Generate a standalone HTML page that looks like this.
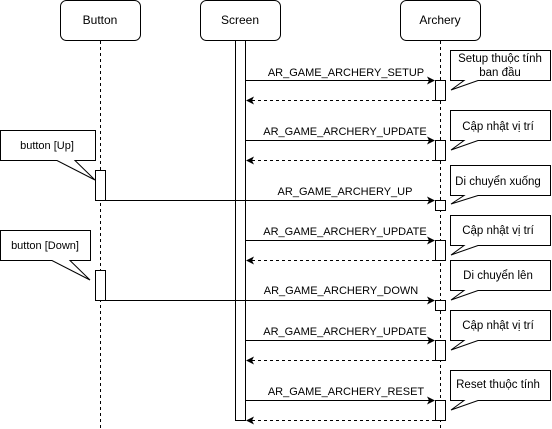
<!DOCTYPE html>
<html><head><style>
body{margin:0;background:#fff;}
svg{display:block;font-family:"Liberation Sans",Arial,sans-serif;font-size:11px;}
</style></head><body>
<svg width="552" height="429" viewBox="0 0 552 429" xmlns="http://www.w3.org/2000/svg">
<defs>
<marker id="a" markerWidth="8" markerHeight="8" refX="7" refY="4" orient="auto" markerUnits="userSpaceOnUse"><path d="M0,0 L8,4 L0,8 L2,4 Z" fill="#000"/></marker>
</defs>
<g stroke="#000" fill="#fff">
<rect x="60.5" y="0.5" width="80" height="40" rx="6"/>
<rect x="200.5" y="0.5" width="80" height="40" rx="6"/>
<rect x="400.5" y="0.5" width="80" height="40" rx="6"/>
<line x1="100.5" y1="41" x2="100.5" y2="429" stroke-dasharray="3,3"/>
<line x1="440.5" y1="41" x2="440.5" y2="429" stroke-dasharray="3,3"/>
<rect x="235.5" y="40.5" width="10" height="380"/>
<rect x="95.5" y="170.5" width="10" height="30"/>
<rect x="95.5" y="270.5" width="10" height="30"/>
<rect x="435.5" y="80.5" width="10" height="20"/>
<rect x="435.5" y="140.5" width="10" height="20"/>
<rect x="435.5" y="200.5" width="10" height="10"/>
<rect x="435.5" y="240.5" width="10" height="20"/>
<rect x="435.5" y="300.5" width="10" height="10"/>
<rect x="435.5" y="340.5" width="10" height="20"/>
<rect x="435.5" y="400.5" width="10" height="20"/>
<!-- notes -->
<path d="M450.5,50.5 H550.5 V80.5 H478 L451,90 L464,80.5 H450.5 Z"/>
<path d="M450.5,110.5 H550.5 V140.5 H478 L451,150 L464,140.5 H450.5 Z"/>
<path d="M450.5,165.5 H550.5 V195.5 H478 L451,204 L464,195.5 H450.5 Z"/>
<path d="M450.5,215.5 H550.5 V245.5 H478 L451,255 L464,245.5 H450.5 Z"/>
<path d="M450.5,260.5 H550.5 V290.5 H478 L451,300 L464,290.5 H450.5 Z"/>
<path d="M450.5,310.5 H550.5 V340.5 H478 L451,350 L464,340.5 H450.5 Z"/>
<path d="M450.5,370.5 H550.5 V400.5 H478 L451,410 L464,400.5 H450.5 Z"/>
<path d="M0.5,130.5 H95.5 V160.5 H75 L95,180 L57,160.5 H0.5 Z"/>
<path d="M0.5,230.5 H90.5 V260.5 H70 L90,280 L52,260.5 H0.5 Z"/>
<!-- arrows -->
<g fill="none">
<line x1="246" y1="80.5" x2="434" y2="80.5" marker-end="url(#a)"/>
<line x1="435" y1="100.5" x2="247" y2="100.5" stroke-dasharray="3,3" marker-end="url(#a)"/>
<line x1="246" y1="140.5" x2="434" y2="140.5" marker-end="url(#a)"/>
<line x1="435" y1="160.5" x2="247" y2="160.5" stroke-dasharray="3,3" marker-end="url(#a)"/>
<line x1="106" y1="200.5" x2="434" y2="200.5" marker-end="url(#a)"/>
<line x1="246" y1="240.5" x2="434" y2="240.5" marker-end="url(#a)"/>
<line x1="435" y1="260.5" x2="247" y2="260.5" stroke-dasharray="3,3" marker-end="url(#a)"/>
<line x1="106" y1="300.5" x2="434" y2="300.5" marker-end="url(#a)"/>
<line x1="246" y1="340.5" x2="434" y2="340.5" marker-end="url(#a)"/>
<line x1="435" y1="360.5" x2="247" y2="360.5" stroke-dasharray="3,3" marker-end="url(#a)"/>
<line x1="246" y1="400.5" x2="434" y2="400.5" marker-end="url(#a)"/>
<line x1="435" y1="420.5" x2="247" y2="420.5" stroke-dasharray="3,3" marker-end="url(#a)"/>
</g>
</g>
<g fill="#000" text-anchor="middle" font-size="12">
<text x="100" y="24">Button</text>
<text x="240" y="24">Screen</text>
<text x="440" y="24">Archery</text>
</g>
<g fill="#000" text-anchor="middle" font-size="11">
<text x="346" y="76">AR_GAME_ARCHERY_SETUP</text>
<text x="345" y="135">AR_GAME_ARCHERY_UPDATE</text>
<text x="345" y="195">AR_GAME_ARCHERY_UP</text>
<text x="345" y="235">AR_GAME_ARCHERY_UPDATE</text>
<text x="341" y="294">AR_GAME_ARCHERY_DOWN</text>
<text x="345" y="335">AR_GAME_ARCHERY_UPDATE</text>
<text x="346" y="395">AR_GAME_ARCHERY_RESET</text>
</g>
<g fill="#000" text-anchor="middle" font-size="11.5">
<text x="500" y="62">Setup thuộc tính</text>
<text x="500" y="76">ban đầu</text>
<text x="498" y="130">Cập nhật vị trí</text>
<text x="498" y="185">Di chuyển xuống</text>
<text x="498" y="234">Cập nhật vị trí</text>
<text x="498" y="279">Di chuyển lên</text>
<text x="498" y="329">Cập nhật vị trí</text>
<text x="498" y="388">Reset thuộc tính</text>
</g>
<g fill="#000" text-anchor="middle">
<text x="47" y="149">button [Up]</text>
<text x="45" y="249">button [Down]</text>
</g>
</svg>
</body></html>
